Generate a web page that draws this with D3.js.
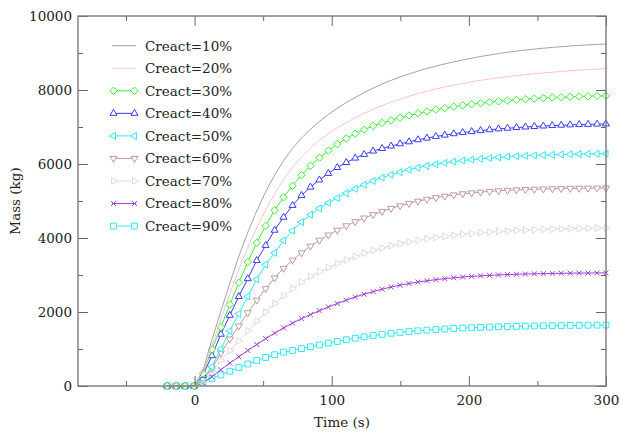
<!DOCTYPE html>
<html>
<head>
<meta charset="utf-8">
<script src="https://cdn.jsdelivr.net/npm/d3@7"></script>
<style>
  html, body { margin: 0; padding: 0; background: #fff; }
  #chart { width: 620px; height: 434px; }
</style>
</head>
<body>
<div id="chart"></div>
<script>
// time samples (s)
var times = [-20, -13.47, -6.94, -0.41, 6.12, 12.65, 19.18, 25.71, 32.24, 38.78,
  45.31, 51.84, 58.37, 64.9, 71.43, 77.96, 84.49, 91.02, 97.55, 104.08,
  110.61, 117.14, 123.67, 130.2, 136.73, 143.27, 149.8, 156.33, 162.86, 169.39,
  175.92, 182.45, 188.98, 195.51, 202.04, 208.57, 215.1, 221.63, 228.16, 234.69,
  241.22, 247.76, 254.29, 260.82, 267.35, 273.88, 280.41, 286.94, 293.47, 300];

var labels = ['Creact=10%', 'Creact=20%', 'Creact=30%', 'Creact=40%', 'Creact=50%',
  'Creact=60%', 'Creact=70%', 'Creact=80%', 'Creact=90%'];

var mass10 = [0, 0, 0, 0, 420, 1250, 2020, 2780, 3500, 4150, 4730, 5250, 5700, 6090, 6420, 6700, 6940, 7150, 7340, 7510,
  7660, 7800, 7930, 8050, 8160, 8260, 8350, 8435, 8510, 8580, 8645, 8705, 8760, 8810, 8860, 8905, 8945, 8985, 9020, 9050,
  9080, 9105, 9130, 9150, 9170, 9190, 9205, 9220, 9232, 9243];
var mass20 = [0, 0, 0, 0, 350, 1100, 1800, 2500, 3150, 3750, 4280, 4760, 5200, 5580, 5910, 6190, 6430, 6640, 6820, 6980,
  7120, 7250, 7370, 7480, 7580, 7670, 7755, 7830, 7900, 7965, 8025, 8080, 8130, 8175, 8220, 8260, 8295, 8330, 8360, 8390,
  8415, 8440, 8460, 8480, 8500, 8520, 8535, 8550, 8565, 8580];
var mass30 = [0, 0, 0, 0, 340, 990, 1590, 2200, 2790, 3350, 3870, 4330, 4750, 5100, 5410, 5700, 5950, 6170, 6360, 6540,
  6690, 6820, 6930, 7030, 7110, 7180, 7250, 7310, 7370, 7420, 7470, 7510, 7550, 7585, 7615, 7645, 7670, 7695, 7715, 7735,
  7752, 7768, 7782, 7795, 7806, 7816, 7825, 7832, 7838, 7843];
var mass40 = [0, 0, 0, 0, 290, 820, 1400, 1910, 2420, 2900, 3390, 3800, 4210, 4560, 4880, 5150, 5375, 5570, 5745, 5905,
  6040, 6160, 6260, 6350, 6420, 6485, 6545, 6600, 6655, 6700, 6745, 6780, 6818, 6850, 6876, 6903, 6926, 6949, 6967, 6985,
  7000, 7014, 7027, 7039, 7049, 7058, 7066, 7072, 7078, 7082];
var mass50 = [0, 0, 0, 0, 200, 520, 1000, 1490, 1950, 2420, 2880, 3280, 3600, 3930, 4200, 4430, 4630, 4800, 4950, 5080,
  5210, 5330, 5440, 5540, 5630, 5710, 5780, 5845, 5900, 5950, 5995, 6030, 6065, 6095, 6120, 6140, 6160, 6180, 6195, 6210,
  6222, 6233, 6242, 6250, 6257, 6263, 6268, 6272, 6276, 6280];
var mass60 = [0, 0, 0, 0, 150, 480, 890, 1270, 1620, 1980, 2320, 2630, 2920, 3180, 3400, 3600, 3780, 3940, 4080, 4210,
  4330, 4440, 4540, 4630, 4720, 4800, 4870, 4935, 4995, 5045, 5090, 5130, 5165, 5195, 5220, 5240, 5260, 5275, 5290, 5300,
  5310, 5318, 5325, 5331, 5336, 5340, 5344, 5347, 5350, 5352];
var mass70 = [0, 0, 0, 0, 110, 400, 690, 960, 1220, 1490, 1750, 2000, 2230, 2440, 2630, 2810, 2960, 3090, 3200, 3310,
  3410, 3500, 3590, 3660, 3730, 3790, 3845, 3895, 3940, 3980, 4015, 4045, 4075, 4100, 4122, 4142, 4160, 4176, 4190, 4203,
  4214, 4224, 4232, 4240, 4246, 4252, 4257, 4261, 4265, 4268];
var mass80 = [0, 0, 0, 0, 80, 250, 440, 620, 790, 960, 1120, 1280, 1430, 1570, 1700, 1820, 1930, 2035, 2135, 2230,
  2320, 2405, 2480, 2550, 2615, 2675, 2725, 2770, 2810, 2845, 2875, 2900, 2925, 2945, 2962, 2977, 2990, 3001, 3011, 3019,
  3026, 3032, 3037, 3042, 3046, 3049, 3052, 3054, 3056, 3058];
var mass90 = [0, 0, 0, 0, 110, 205, 300, 400, 500, 595, 690, 770, 845, 915, 960, 1010, 1060, 1110, 1160, 1205,
  1250, 1290, 1330, 1365, 1397, 1425, 1450, 1472, 1492, 1510, 1526, 1540, 1553, 1565, 1575, 1586, 1594, 1601, 1607, 1613,
  1618, 1623, 1627, 1631, 1634, 1637, 1640, 1643, 1645, 1648];

var xMajor = [0, 100, 200, 300], xMinor = [-50, 50, 150, 250];
var yMajor = [0, 2000, 4000, 6000, 8000, 10000], yMinor = [1000, 3000, 5000, 7000, 9000];

var FONT = '"DejaVu Serif", serif';
var series = [
  { name: labels[0], values: mass10, color: '#a3a3a3', mark: null },
  { name: labels[1], values: mass20, color: '#ffc4c4', mark: null },
  { name: labels[2], values: mass30, color: '#3dec3d', mark: 'diamond' },
  { name: labels[3], values: mass40, color: '#3c3cf0', mark: 'tri-up' },
  { name: labels[4], values: mass50, color: '#2ee8f2', mark: 'tri-left' },
  { name: labels[5], values: mass60, color: '#c09a9a', mark: 'tri-down' },
  { name: labels[6], values: mass70, color: '#dcdcdc', mark: 'tri-right' },
  { name: labels[7], values: mass80, color: '#a040d8', mark: 'times' },
  { name: labels[8], values: mass90, color: '#2ee8f2', mark: 'square' }
];

var w = 620, h = 434;
var margin = { top: 16, right: 14, bottom: 48, left: 78 };
var iw = w - margin.left - margin.right;
var ih = h - margin.top - margin.bottom;

var svg = d3.select('#chart').append('svg').attr('width', w).attr('height', h);
var g = svg.append('g').attr('transform', 'translate(' + margin.left + ',' + margin.top + ')');

var x = d3.scaleLinear().domain([-85, 300]).range([0, iw]);
var y = d3.scaleLinear().domain([0, 10000]).range([ih, 0]);

function markPath(type) {
  var r = 3.7;
  if (type === 'diamond') return 'M0,' + (-r) + 'L' + r + ',0L0,' + r + 'L' + (-r) + ',0Z';
  if (type === 'square') { var s = 2.9; return 'M' + (-s) + ',' + (-s) + 'H' + s + 'V' + s + 'H' + (-s) + 'Z'; }
  if (type === 'times') { var c = 2.5; return 'M' + (-c) + ',' + (-c) + 'L' + c + ',' + c + 'M' + (-c) + ',' + c + 'L' + c + ',' + (-c); }
  // triangle pointing up, rotated later
  var t = 4;
  return 'M0,' + (-t) + 'L' + (t * 0.87) + ',' + (t * 0.5) + 'L' + (-t * 0.87) + ',' + (t * 0.5) + 'Z';
}
function markRot(type) {
  return { 'tri-left': -90, 'tri-down': 180, 'tri-right': 90 }[type] || 0;
}

// Curves
var line = d3.line().x(function(d, i) { return x(times[i]); }).y(function(d) { return y(d); });
var plot = g.append('g');
series.slice().reverse().forEach(function(s) {
  plot.append('path').datum(s.values)
    .attr('d', line).attr('fill', 'none')
    .attr('stroke', s.color).attr('stroke-width', 1);
  if (!s.mark) return;
  plot.append('g').selectAll('path').data(s.values).join('path')
    .attr('d', markPath(s.mark))
    .attr('transform', function(d, i) { return 'translate(' + x(times[i]) + ',' + y(d) + ') rotate(' + markRot(s.mark) + ')'; })
    .attr('fill', s.mark === 'times' ? 'none' : '#fff')
    .attr('stroke', s.color).attr('stroke-width', 1);
});

// Axes, ticks pointing inward
function styleAxis(sel) {
  sel.select('.domain').remove();
  sel.selectAll('.tick line').attr('stroke', '#666').attr('stroke-width', 1);
  sel.selectAll('.tick text').attr('fill', '#222').attr('font-size', '13.5px').attr('font-family', FONT);
}
g.append('g').attr('transform', 'translate(0,' + ih + ')')
  .call(d3.axisBottom(x).tickValues(xMajor).tickSize(-10).tickPadding(9).tickFormat(d3.format('d')))
  .call(styleAxis);
g.append('g').attr('transform', 'translate(0,' + ih + ')')
  .call(d3.axisBottom(x).tickValues(xMinor).tickSize(-5).tickFormat(''))
  .call(styleAxis);
g.append('g')
  .call(d3.axisTop(x).tickValues(xMajor).tickSize(-10).tickFormat(''))
  .call(styleAxis);
g.append('g')
  .call(d3.axisTop(x).tickValues(xMinor).tickSize(-5).tickFormat(''))
  .call(styleAxis);
g.append('g')
  .call(d3.axisLeft(y).tickValues(yMajor).tickSize(-10).tickPadding(6).tickFormat(d3.format('d')))
  .call(styleAxis);
g.append('g')
  .call(d3.axisLeft(y).tickValues(yMinor).tickSize(-5).tickFormat(''))
  .call(styleAxis);
g.append('g').attr('transform', 'translate(' + iw + ',0)')
  .call(d3.axisRight(y).tickValues(yMajor).tickSize(-10).tickFormat(''))
  .call(styleAxis);
g.append('g').attr('transform', 'translate(' + iw + ',0)')
  .call(d3.axisRight(y).tickValues(yMinor).tickSize(-5).tickFormat(''))
  .call(styleAxis);

// Frame
g.append('rect').attr('x', 0).attr('y', 0).attr('width', iw).attr('height', ih)
  .attr('fill', 'none').attr('stroke', '#7a7a7a').attr('stroke-width', 1.4);

// Axis labels
svg.append('text').attr('x', margin.left + iw / 2).attr('y', 427)
  .attr('text-anchor', 'middle').attr('fill', '#222').attr('font-size', '13.5px').attr('font-family', FONT)
  .text('Time (s)');
svg.append('text').attr('transform', 'rotate(-90)').attr('x', -(margin.top + ih / 2)).attr('y', 20)
  .attr('text-anchor', 'middle').attr('fill', '#222').attr('font-size', '13.5px').attr('font-family', FONT)
  .text('Mass (kg)');

// Legend
var legend = svg.append('g').attr('transform', 'translate(0,45.7)');
series.forEach(function(s, i) {
  var row = legend.append('g').attr('transform', 'translate(0,' + (i * 22.55) + ')');
  row.append('line').attr('x1', 112).attr('x2', 136).attr('y1', 0).attr('y2', 0)
    .attr('stroke', s.color).attr('stroke-width', 1);
  if (s.mark) {
    [113.5, 134.5].forEach(function(mx) {
      row.append('path').attr('d', markPath(s.mark))
        .attr('transform', 'translate(' + mx + ',0) rotate(' + markRot(s.mark) + ')')
        .attr('fill', s.mark === 'times' ? 'none' : '#fff')
        .attr('stroke', s.color).attr('stroke-width', 1);
    });
  }
  row.append('text').attr('x', 145).attr('y', 0).attr('dy', '0.36em')
    .attr('fill', '#222').attr('font-size', '13.5px').attr('font-family', FONT)
    .text(s.name);
});
</script>
</body>
</html>
